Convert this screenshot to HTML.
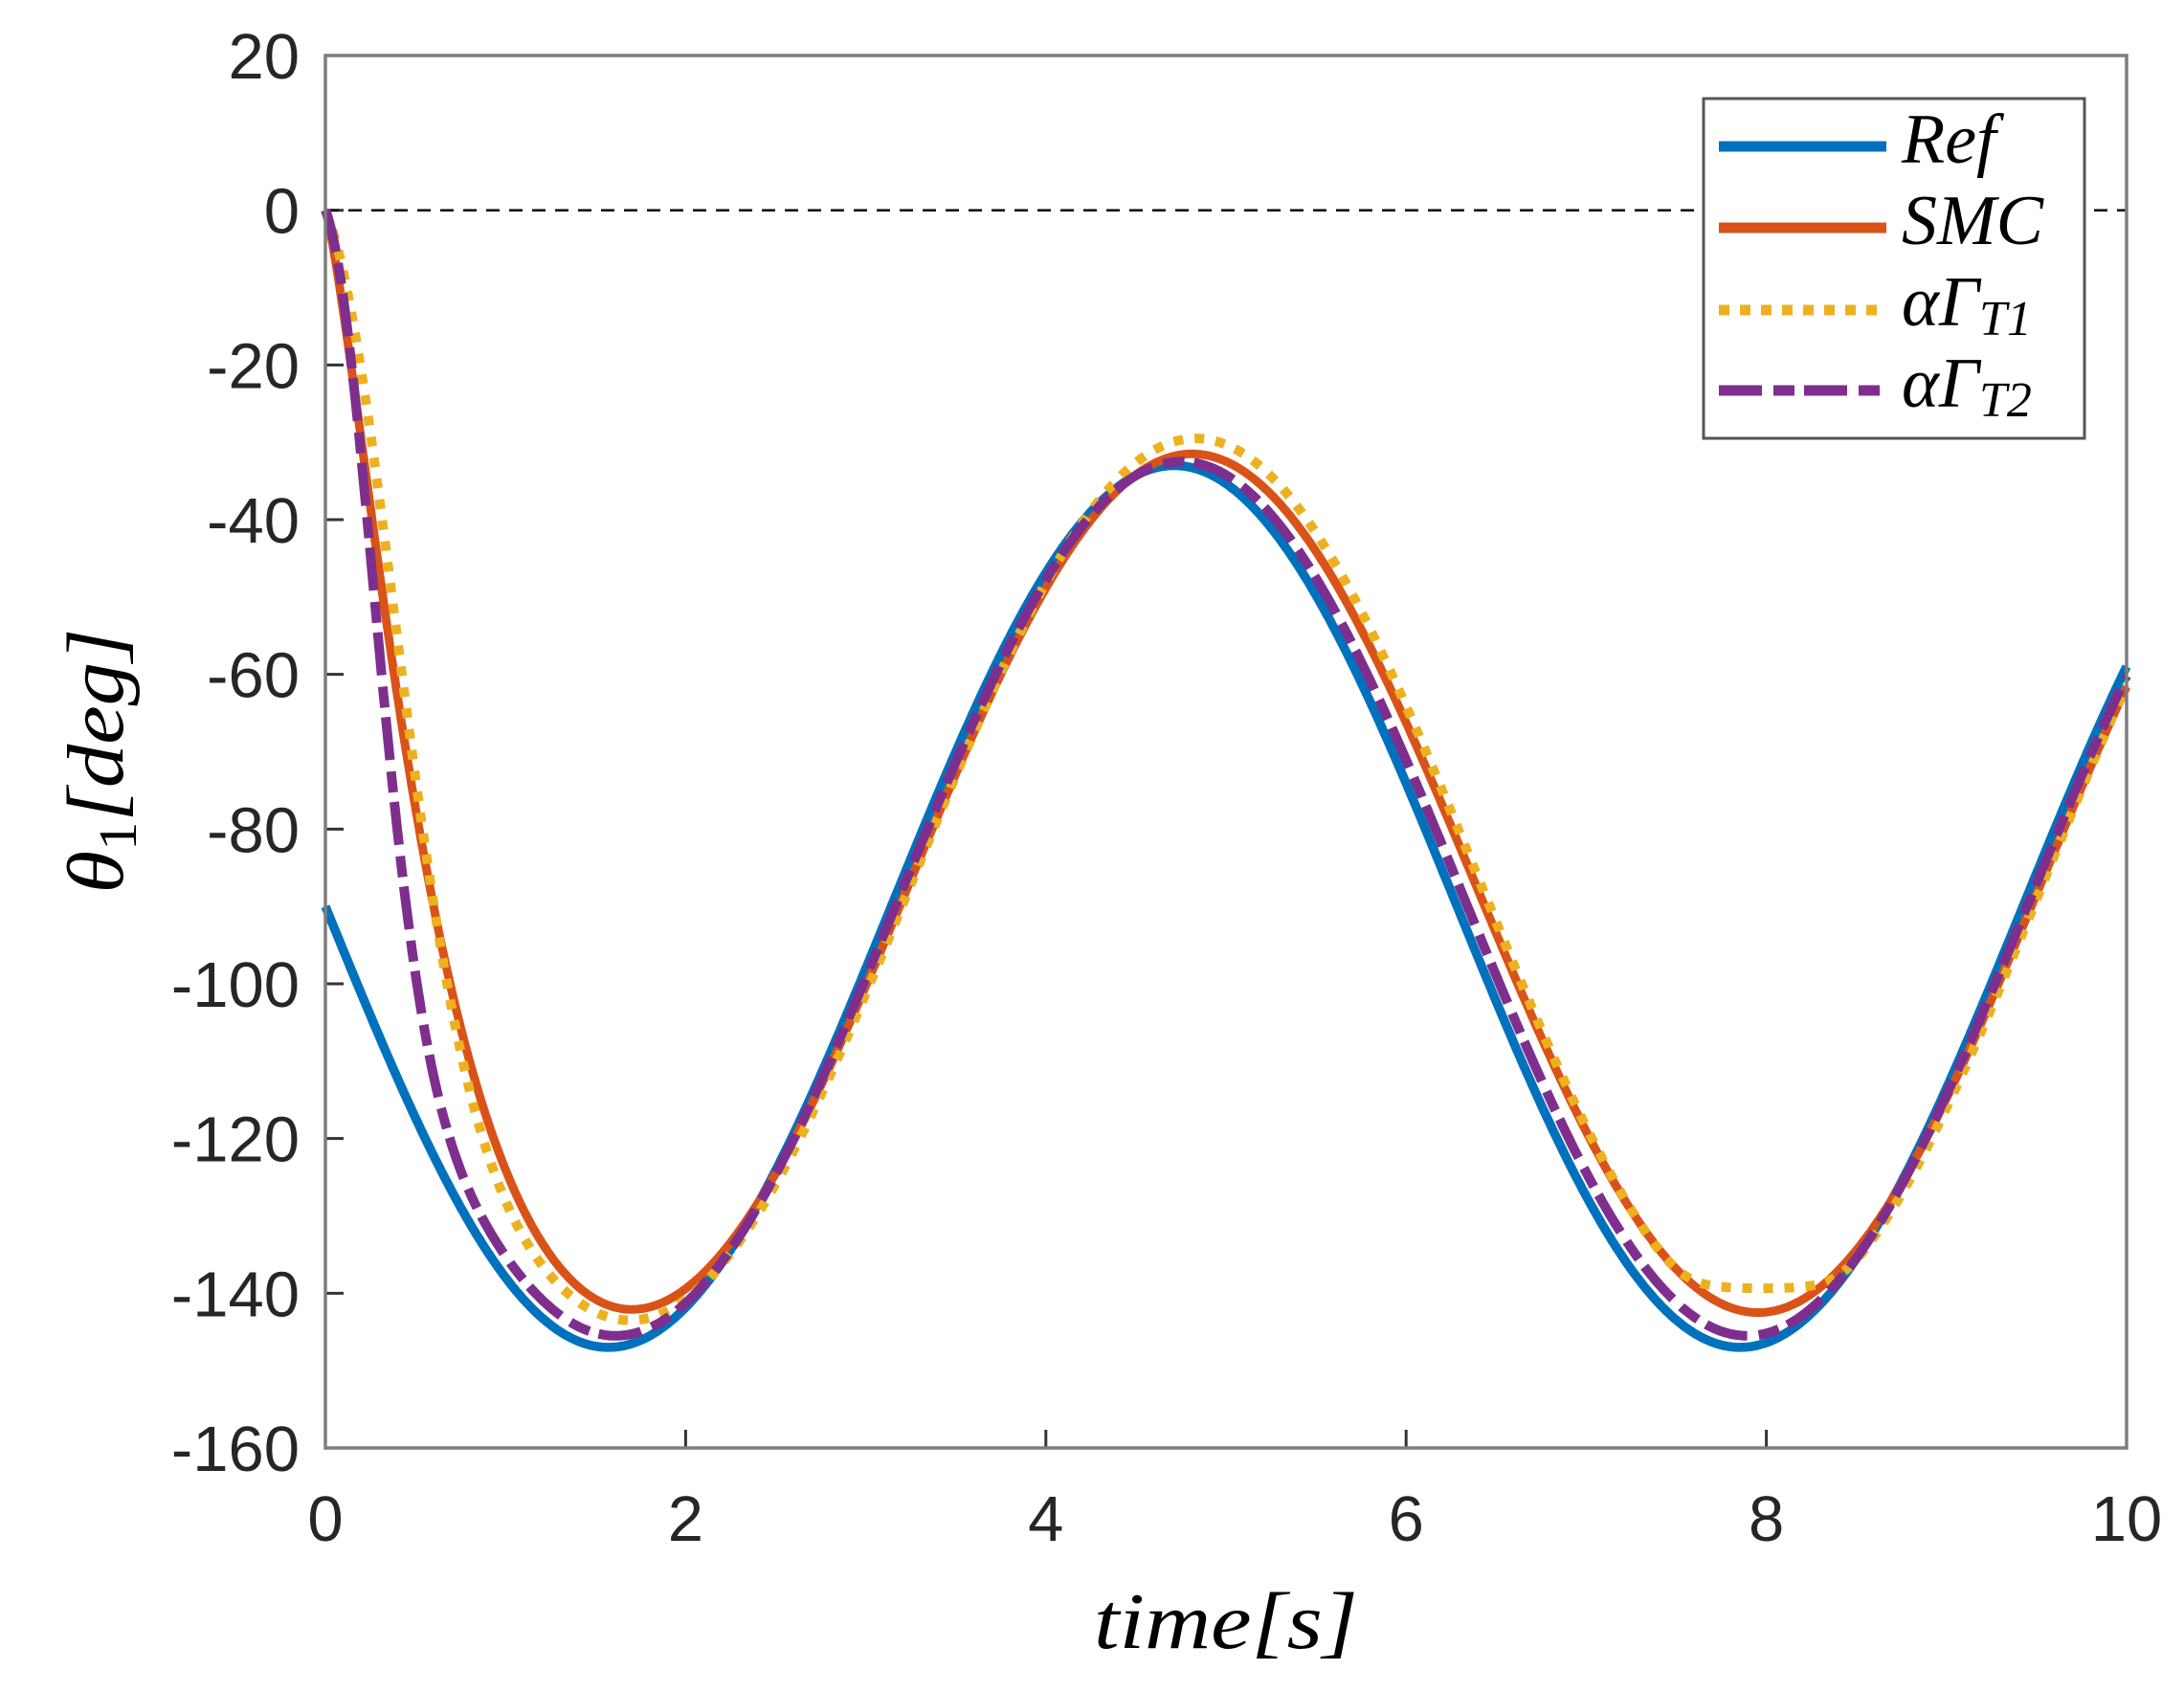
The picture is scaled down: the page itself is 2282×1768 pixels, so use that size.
<!DOCTYPE html>
<html><head><meta charset="utf-8"><style>
html,body{margin:0;padding:0;background:#fff;}
svg{display:block;}
.tk{font-family:"Liberation Sans",Arial,sans-serif;font-size:67px;fill:#262626;}
.it{font-family:"Liberation Serif","DejaVu Serif",serif;font-style:italic;fill:#000;}
</style></head><body>
<svg id="s" width="2282" height="1768" viewBox="0 0 2282 1768" xmlns="http://www.w3.org/2000/svg">
<rect x="0" y="0" width="2282" height="1768" fill="#fff"/>
<g id="ticks"></g>
<line x1="340" y1="219.7" x2="2222" y2="219.7" stroke="#000" stroke-width="2.5" stroke-dasharray="14,10"/>
<g id="curves" fill="none" stroke-linejoin="round"></g>
<rect x="340" y="58" width="1882" height="1455" fill="none" stroke="#7d7d7d" stroke-width="3.5"/>
<g id="labels"></g>
<text class="it" x="1281" y="1722" font-size="84" text-anchor="middle" textLength="276" lengthAdjust="spacingAndGlyphs">time[s]</text>
<text class="it" transform="translate(128,795) rotate(-90)" font-size="84" text-anchor="middle" textLength="277" lengthAdjust="spacingAndGlyphs">θ<tspan font-style="normal" font-size="56" dy="14">1</tspan><tspan dy="-14">[deg]</tspan></text>
<rect x="1780" y="103" width="398" height="355" fill="#fff" stroke="#555" stroke-width="3"/>
<line x1="1796" y1="153" x2="1971" y2="153" stroke="#0072BD" stroke-width="11"/>
<line x1="1796" y1="238" x2="1971" y2="238" stroke="#D95319" stroke-width="11"/>
<line x1="1796" y1="324" x2="1971" y2="324" stroke="#EDB120" stroke-width="11" stroke-dasharray="11,11"/>
<line x1="1796" y1="408" x2="1971" y2="408" stroke="#7E2F8E" stroke-width="11" stroke-dasharray="45,12,22,10"/>
<text class="it" x="1987" y="170" font-size="74">Ref</text>
<text class="it" x="1987" y="255" font-size="74">SMC</text>
<text class="it" x="1987" y="340" font-size="74">αΓ<tspan font-size="52" dy="10">T1</tspan></text>
<text class="it" x="1987" y="425" font-size="74">αΓ<tspan font-size="52" dy="10">T2</tspan></text>
</svg>
<script>
(function(){
var NS="http://www.w3.org/2000/svg";
function X(t){return 340+t*188.2;}
function Y(v){return 219.7-v*8.083;}
var tk=document.getElementById('ticks'),lb=document.getElementById('labels');
function el(p,tag,a,txt){var e=document.createElementNS(NS,tag);for(var k in a)e.setAttribute(k,a[k]);if(txt!==undefined)e.textContent=txt;p.appendChild(e);return e;}
for(var v=20;v>=-160;v-=20){var y=Y(v);
 el(tk,'line',{x1:340,y1:y,x2:359,y2:y,stroke:'#333','stroke-width':3});
 el(lb,'text',{'class':'tk',x:313,y:y+24,'text-anchor':'end'},String(v));}
for(var t=0;t<=10;t+=2){var x=X(t);
 el(tk,'line',{x1:x,y1:1513,x2:x,y2:1494,stroke:'#333','stroke-width':3});
 el(lb,'text',{'class':'tk',x:x,y:1610,'text-anchor':'middle'},String(t));}
function ref(t){return -90-57*Math.sin(t);}
function smc(t){var b=function(t){return -87-55.5*Math.sin(t-0.1);};return b(t)+(-b(0))*Math.exp(-Math.pow(t/0.517,1.41));}
function pur(t){var b=function(t){return -89-56.5*Math.sin(t-0.04);};return b(t)+(-b(0))*Math.exp(-Math.pow(t/0.38,2));}
function yel(t){var b=function(t){return -86.5-57*Math.sin(t-0.12);};var v=b(t)+(-b(0))*Math.exp(-Math.pow(t/0.543,2.06));
 if(t>5){var c=-139.5,k=0.6;v=c+Math.log(Math.exp((v-c)*k)+1)/k;}return v;}
function path(f){var d='';for(var i=0;i<=1000;i++){var t=i/100;d+=(i?'L':'M')+X(t).toFixed(1)+','+Y(f(t)).toFixed(1);}return d;}
var cv=document.getElementById('curves');
el(cv,'path',{d:path(ref),stroke:'#0072BD','stroke-width':9.5});
el(cv,'path',{d:path(smc),stroke:'#D95319','stroke-width':9});
el(cv,'path',{d:path(yel),stroke:'#EDB120','stroke-width':10,'stroke-dasharray':'10,12'});
el(cv,'path',{d:path(pur),stroke:'#7E2F8E','stroke-width':10,'stroke-dasharray':'45,12,22,10'});
})();
</script>
</body></html>
